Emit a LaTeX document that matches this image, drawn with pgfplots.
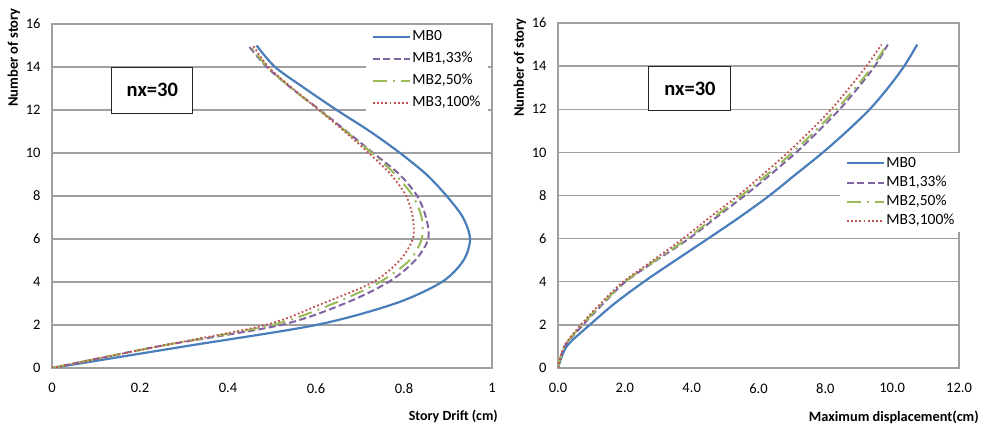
\documentclass[border=0pt]{standalone}
\usepackage{fontspec}
\setmainfont{Carlito}
\usepackage{pgfplots}
\pgfplotsset{compat=1.18}
\definecolor{cb}{HTML}{4A7EBB}
\definecolor{cp}{HTML}{8064A2}
\definecolor{cg}{HTML}{9BBB59}
\definecolor{cr}{HTML}{C0504D}
\definecolor{gridc}{HTML}{A0A0A0}
\pgfplotsset{
  mystyle/.style={
    scale only axis,
    axis line style={gridc, line width=1.3bp},
    ymin=0, ymax=16, ytick={0,2,...,16},
    ymajorgrids, grid style={gridc, line width=1.3bp},
    major tick length=0pt,
    tick label style={font=\fontsize{14.5bp}{16bp}\selectfont, black},
    /pgf/number format/assume math mode=true,
    yticklabel style={xshift=-8bp},
    xticklabel style={yshift=-12bp},
    legend image code/.code={\draw[##1] (0bp,0bp) -- (37bp,0bp);},
    legend cell align=left,
  },
  mylegend/.style={
    draw=none, fill=white, anchor=north west,
    font=\fontsize{15.5bp}{17bp}\selectfont,
    inner xsep=6bp, inner ysep=3bp, column sep=0bp,
    nodes={inner xsep=1.5bp, inner ysep=1bp, text height=10.5bp, text depth=3bp},
  },
  s0/.style={cb, line width=2.2bp, smooth, tension=0.5},
  s1/.style={cp, line width=2bp, smooth, tension=0.5, dash pattern=on 7bp off 3.5bp},
  s2/.style={cg, line width=2bp, smooth, tension=0.5, dash pattern=on 14bp off 6bp on 2bp off 6bp},
  s3/.style={cr, line width=1.8bp, smooth, tension=0.5, dash pattern=on 1.8bp off 2.4bp},
}
\pgfplotstableread{
x y
0 0
0.30 1
0.60 2
0.78 3
0.886 4
0.935 5
0.95 6
0.934 7
0.897 8
0.851 9
0.791 10
0.723 11
0.647 12
0.575 13
0.507 14
0.465 15
}\dA
\pgfplotstableread{
x y
0 0
0.24 1
0.52 2
0.665 3
0.765 4
0.825 5
0.855 6
0.85 7
0.83 8
0.79 9
0.73 10
0.67 11
0.609 12
0.545 13
0.488 14
0.446 15
}\dB
\pgfplotstableread{
x y
0 0
0.24 1
0.50 2
0.64 3
0.745 4
0.812 5
0.84 6
0.84 7
0.82 8
0.78 9
0.727 10
0.668 11
0.607 12
0.545 13
0.49 14
0.45 15
}\dC
\pgfplotstableread{
x y
0 0
0.24 1
0.485 2
0.615 3
0.73 4
0.79 5
0.82 6
0.82 7
0.805 8
0.77 9
0.72 10
0.665 11
0.607 12
0.547 13
0.492 14
0.457 15
}\dD
\pgfplotstableread{
x y
0 0
0.26 1
0.95 2
1.70 3
2.57 4
3.52 5
4.49 6
5.44 7
6.33 8
7.13 9
7.93 10
8.66 11
9.33 12
9.88 13
10.36 14
10.75 15
}\rA
\pgfplotstableread{
x y
0 0
0.20 1
0.75 2
1.36 3
2.02 4
2.95 5
3.92 6
4.75 7
5.59 8
6.38 9
7.13 10
7.80 11
8.43 12
8.98 13
9.48 14
9.87 15
}\rB
\pgfplotstableread{
x y
0 0
0.19 1
0.72 2
1.33 3
2.00 4
2.92 5
3.86 6
4.68 7
5.50 8
6.28 9
7.02 10
7.70 11
8.33 12
8.90 13
9.42 14
9.84 15
}\rC
\pgfplotstableread{
x y
0 0
0.18 1
0.68 2
1.28 3
1.95 4
2.85 5
3.74 6
4.55 7
5.39 8
6.15 9
6.88 10
7.55 11
8.18 12
8.72 13
9.23 14
9.68 15
}\rD
\begin{document}
\begin{tikzpicture}[x=1bp,y=1bp]
\useasboundingbox (0bp,0bp) rectangle (985bp,429bp);
% left chart
\begin{axis}[mystyle,
  at={(52bp,61bp)}, anchor=south west,
  width=440bp, height=344bp,
  xmin=0, xmax=1, xtick={0,0.2,...,1},
  legend style={mylegend, at={(rel axis cs:0.7125,0.995)}, row sep=6.5bp},
]
\addplot[s0] table {\dA};
\addplot[s1] table {\dB};
\addplot[s2] table {\dC};
\addplot[s3] table {\dD};
\legend{MB0,{MB1,33\%},{MB2,50\%},{MB3,100\%}}
\node[draw=black!85, line width=1bp, fill=white, minimum width=81bp, minimum height=46bp,
  font=\bfseries\fontsize{20.5bp}{22bp}\selectfont] at (rel axis cs:0.228,0.808) {nx=30};
\end{axis}
% right chart
\begin{axis}[mystyle,
  at={(558bp,61bp)}, anchor=south west,
  width=401bp, height=345bp,
  xmin=0, xmax=12, xtick={0,2,...,12},
  xticklabel={\pgfmathprintnumber[fixed,fixed zerofill,precision=1]{\tick}},
  legend style={mylegend, at={(rel axis cs:0.702,0.625)}, row sep=3.8bp},
]
\addplot[s0] table {\rA};
\addplot[s1] table {\rB};
\addplot[s2] table {\rC};
\addplot[s3] table {\rD};
\legend{MB0,{MB1,33\%},{MB2,50\%},{MB3,100\%}}
\node[draw=black!85, line width=1bp, fill=white, minimum width=82bp, minimum height=44bp,
  font=\bfseries\fontsize{20.5bp}{22bp}\selectfont] at (rel axis cs:0.329,0.809) {nx=30};
\end{axis}
\node[rotate=90, anchor=east, font=\bfseries\fontsize{14.5bp}{15bp}\selectfont, inner sep=0pt] at (14bp,421bp) {Number of story};
\node[rotate=90, anchor=east, font=\bfseries\fontsize{14.5bp}{15bp}\selectfont, inner sep=0pt] at (520bp,411bp) {Number of story};
\node[anchor=east, font=\bfseries\fontsize{14bp}{15bp}\selectfont, inner sep=0pt] at (498bp,13bp) {Story Drift (cm)};
\node[anchor=east, font=\bfseries\fontsize{14.3bp}{15bp}\selectfont, inner sep=0pt] at (979bp,12bp) {Maximum displacement(cm)};
\end{tikzpicture}
\end{document}
